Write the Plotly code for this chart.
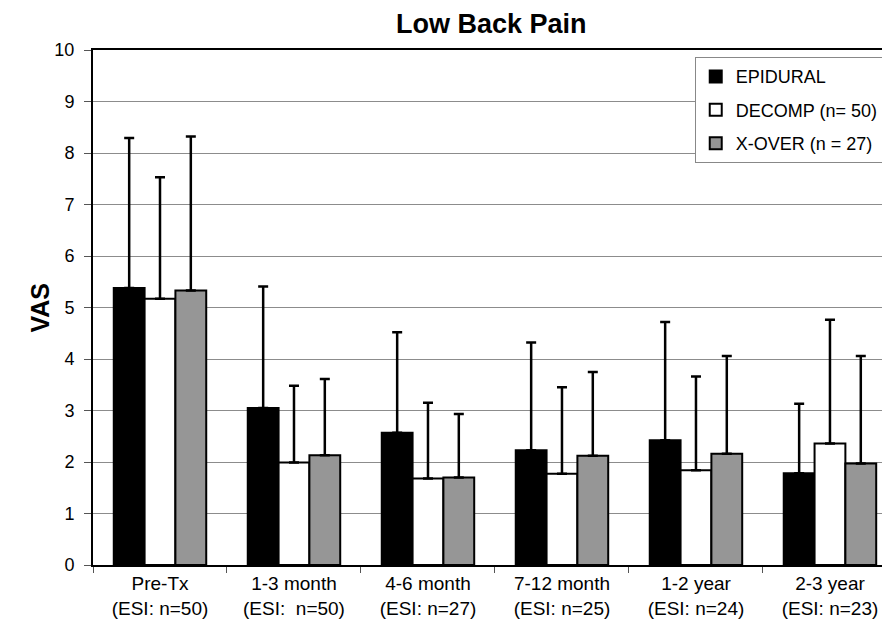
import plotly.graph_objects as go

categories = ["Pre-Tx<br>(ESI: n=50)", "1-3 month<br>(ESI:  n=50)", "4-6 month<br>(ESI: n=27)",
              "7-12 month<br>(ESI: n=25)", "1-2 year<br>(ESI: n=24)", "2-3 year<br>(ESI: n=23)"]
series_names = ["EPIDURAL", "DECOMP (n= 50)", "X-OVER (n = 27)"]
epidural = [5.38, 3.05, 2.57, 2.23, 2.42, 1.78]
epidural_err = [2.91, 2.36, 1.95, 2.09, 2.30, 1.35]
decomp = [5.17, 1.99, 1.68, 1.77, 1.84, 2.36]
decomp_err = [2.36, 1.49, 1.47, 1.68, 1.82, 2.40]
xover = [5.33, 2.13, 1.70, 2.12, 2.16, 1.97]
xover_err = [2.99, 1.48, 1.23, 1.63, 1.90, 2.09]

colors = ["#000000", "#ffffff", "#969696"]
FONT = "Liberation Sans, Arial, sans-serif"

fig = go.Figure()
for i, (name, vals, errs, col) in enumerate(zip(series_names, [epidural, decomp, xover],
                                               [epidural_err, decomp_err, xover_err], colors)):
    fig.add_trace(go.Bar(
        x=categories, y=vals, name=name, legendgroup="g%d" % i,
        marker=dict(color=col, line=dict(color="#000000", width=2)),
        error_y=dict(type="data", array=errs, symmetric=False, arrayminus=[0] * len(errs),
                     color="#000000", thickness=2.5, width=5),
    ))

fig.update_layout(
    width=890, height=635,
    margin=dict(l=85, r=8, t=42, b=78, autoexpand=False),
    paper_bgcolor="white", plot_bgcolor="white",
    barmode="group", bargap=0.31, bargroupgap=0,
    font=dict(family=FONT, size=19, color="#000000"),
    title=dict(text="<b>Low Back Pain</b>", xref="container", x=0.543, xanchor="center",
               yref="container", y=0.975, yanchor="middle",
               font=dict(family=FONT, size=27, color="#000000")),
    legend=dict(x=0.755, y=0.986, xanchor="left", yanchor="top",
                bgcolor="white", bordercolor="#888888", borderwidth=1,
                font=dict(family=FONT, size=18, color="#000000"),
                traceorder="grouped", tracegroupgap=7),
    showlegend=True,
)
fig.update_xaxes(
    range=[-0.5, 5.448], showgrid=False, showline=True, linecolor="#000000", linewidth=2,
    mirror=True, ticks="outside", tickson="boundaries", ticklen=6, tickcolor="#555555",
    tickfont=dict(family=FONT, size=19, color="#000000"),
)
fig.update_yaxes(
    range=[0, 10], dtick=1, showgrid=True, gridcolor="#8c8c8c", gridwidth=1.3,
    showline=True, linecolor="#000000", linewidth=2, ticks="outside", ticklen=7,
    tickcolor="#555555", ticklabelstandoff=6, zeroline=False,
    tickfont=dict(family=FONT, size=18, color="#000000"),
)
fig.add_annotation(text="<b>VAS</b>", xref="paper", yref="paper", x=-0.0665, y=0.5,
                   textangle=-90, showarrow=False, xanchor="center", yanchor="middle",
                   font=dict(family=FONT, size=25, color="#000000"))

fig.write_html("out.html")
